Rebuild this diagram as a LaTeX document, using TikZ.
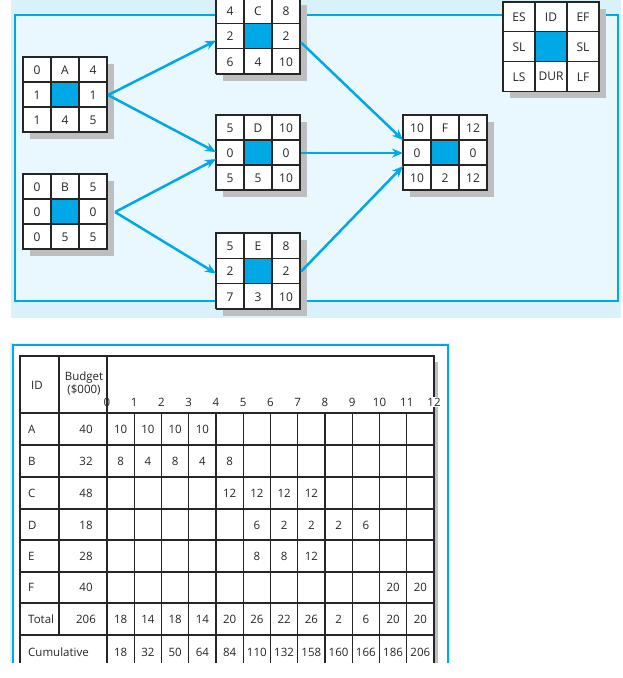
\documentclass[tikz,border=0pt]{standalone}
\usepackage{fontspec}
\setmainfont{Open Sans}
\usetikzlibrary{arrows.meta,calc}
\definecolor{cblue}{HTML}{00A9E6}
\definecolor{bgout}{HTML}{D8F1FB}
\definecolor{bgin}{HTML}{E9F8FE}
\definecolor{shadowgray}{HTML}{BDBEC0}
\tikzset{
 gridbox/.style={draw=black!85, line width=1.1pt, inner sep=0pt, fill=white},
 celltxt/.style={font=\fontsize{12}{14}\selectfont, inner sep=0pt, text=black!85},
 tabtxt/.style={font=\fontsize{11.5}{13}\selectfont, inner sep=0pt, text=black!85},
 flow/.style={draw=cblue, line width=2.5pt, -{Stealth[length=11pt,width=9pt]}},
 tline/.style={draw=black!85, line width=1.3pt},
}
\newcommand\actbox[6]{%
 \fill[shadowgray] (#2+7,#3+7) rectangle ++(3*#4,3*#5);
 \node[gridbox, anchor=north west, minimum width={3*#4pt}, minimum height={3*#5pt}] (#1) at (#2,#3) {};
 \fill[cblue] (#2+#4,#3+#5) rectangle ++(#4,#5);
 \draw[black!85, line width=1.1pt] (#2+#4,#3) -- ++(0,3*#5) (#2+2*#4,#3) -- ++(0,3*#5)
   (#2,#3+#5) -- ++(3*#4,0) (#2,#3+2*#5) -- ++(3*#4,0);
 \draw[black!85, line width=1.1pt] (#2,#3) rectangle ++(3*#4,3*#5);
 \foreach \t [count=\i from 0] in {#6} {
   \pgfmathtruncatemacro\rr{int(\i/3)}
   \pgfmathtruncatemacro\cc{mod(\i,3)}
   \node[celltxt] (#1-\i) at (#2+\cc*#4+#4/2, #3+\rr*#5+#5/2+0.5) {\t};
 }
}
\begin{document}
\begin{tikzpicture}[x=1pt,y=-1pt]
\useasboundingbox (0,0) rectangle (623,678);
% top panel
\fill[bgout] (11,0) rectangle (621,318);
\fill[bgin] (15,15) rectangle (618,301);
\draw[cblue, line width=1.6pt] (15,15) rectangle (618,301);
% activity boxes
\actbox{A}{23}{57}{28}{25}{0,A,4,1,,1,1,4,5}
\actbox{B}{23}{174}{28}{25}{0,B,5,0,,0,0,5,5}
\actbox{C}{216}{-2}{28}{25.3}{4,C,8,2,,2,6,4,10}
\actbox{D}{216}{115}{28}{25}{5,D,10,0,,0,5,5,10}
\actbox{E}{216}{233}{28}{25.3}{5,E,8,2,,2,7,3,10}
\actbox{F}{403}{115}{28}{25}{10,F,12,0,,0,10,2,12}
\actbox{L}{503}{2}{32}{29.7}{ES,ID,EF,SL,,SL,LS,DUR,LF}
% arrows
\draw[flow] (A.east) -- ($(C.west)+(0,4)$);
\draw[flow] (A.east) -- ($(D.west)+(0,-1)$);
\draw[flow] ($(B.east)+(7,0)$) -- ($(D.west)+(0,6)$);
\draw[flow] ($(B.east)+(7,0)$) -- ($(E.west)+(0,2)$);
\draw[flow] ($(C.east)+(0,6)$) -- ($(F.west)+(0,-13)$);
\draw[flow] ($(D.east)+(0,0)$) -- (F.west);
\draw[flow] ($(E.east)+(0,0)$) -- ($(F.west)+(0,13)$);
% bottom panel
\fill[bgout] (10,343) rectangle (450,663);
\fill[white] (14,346) rectangle (447,663);
\draw[cblue, line width=1.6pt] (13,663) -- (13,345) -- (448,345) -- (448,663);
\fill[shadowgray] (434,362) rectangle (438,663);
\fill[white] (20,356) rectangle (434,663);
% table lines
\foreach \yy in {413,445,477,509,540,572,603,635} \draw[tline] (20,\yy) -- (434,\yy);
\foreach \i in {1,...,11} \draw[tline] (107+27.25*\i,413) -- (107+27.25*\i,663);
\draw[tline] (59,356) -- (59,635);
\draw[black!85, line width=1.8pt] (107,356) -- (107,663);
\draw[black!85, line width=1.8pt] (20,663) -- (20,356) -- (434,356) -- (434,663);
% header
\node[tabtxt] (hid) at (37,385) {ID};
\node[tabtxt, align=center] (hbud) at (84,384) {Budget\\(\$000)};
\foreach \i in {0,...,11} \node[tabtxt] (ax\i) at (107+27.25*\i,402) {\i};
\node[tabtxt, fill=white, inner sep=1pt] (ax12) at (434,402) {12};
% rows
\foreach \lab/\bud/\yy [count=\k] in {A/40/429,B/32/461,C/48/493,D/18/525,E/28/556,F/40/587,Total/206/619} {
  \node[tabtxt, anchor=west] (r\k) at (28,\yy) {\lab};
  \node[tabtxt] (b\k) at (86,\yy) {\bud};
}
\node[tabtxt, anchor=west] (cum) at (28,652) {Cumulative};
\newcommand\rowvals[2]{%
  \foreach \v [count=\j from 0] in {#2} {\node[tabtxt] (v#1-\j) at (120.6+27.25*\j,#1) {\v};}}
\rowvals{429}{10,10,10,10}
\rowvals{461}{8,4,8,4,8}
\rowvals{493}{,,,,12,12,12,12}
\rowvals{525}{,,,,,6,2,2,2,6}
\rowvals{556}{,,,,,8,8,12}
\rowvals{587}{,,,,,,,,,,20,20}
\rowvals{619}{18,14,18,14,20,26,22,26,2,6,20,20}
\rowvals{652}{18,32,50,64,84,110,132,158,160,166,186,206}
\end{tikzpicture}
\end{document}
